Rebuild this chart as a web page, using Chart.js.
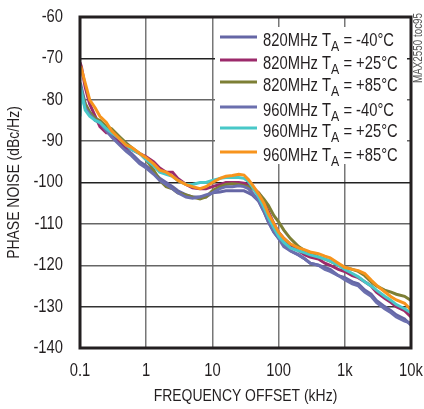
<!DOCTYPE html>
<html lang="en">
<head>
    <meta charset="UTF-8">
    <title>Phase Noise vs Frequency Offset</title>
    <script src="https://cdn.jsdelivr.net/npm/chart.js"></script>
    <style>
        html, body { margin: 0; padding: 0; background: #fff; }
        canvas { display: block; }
    </style>
</head>
<body>
    <canvas id="noiseChart" width="424" height="409"></canvas>

    <script>
        // frequency offset (kHz) shared by all traces
        const freqs = [0.1, 0.105, 0.12, 0.14, 0.17, 0.2, 0.25, 0.3, 0.4, 0.5, 0.6, 0.8,
            1, 1.3, 1.6, 2, 2.5, 3, 4, 5, 6.5, 8,
            10, 13, 16, 20, 25, 30, 35, 40, 50, 60, 70, 85,
            100, 120, 150, 200, 250, 300, 400, 500, 600, 800,
            1000, 1300, 1600, 2000, 2500, 3000, 4000, 5000, 6000, 8000, 10000];

        // phase noise (dBc/Hz)
        const n820m40 = [-78, -77, -81, -83, -84.5, -86, -87, -88.5, -90.5, -92, -93, -95,
            -96, -97.5, -99, -100, -101, -102, -103, -103.5, -103.5, -103.5,
            -102.5, -102.3, -102, -102, -102, -102, -102.5, -103, -104.5, -107, -109.5, -112,
            -113.5, -115, -116.5, -117.5, -118.5, -119.5, -120, -120.5, -121, -122.5,
            -123, -124, -124.5, -126, -127, -128.5, -130, -131, -132, -133, -134.5];
        const n820p25 = [-71, -72, -77, -81, -84, -86.5, -88, -88, -90, -91.5, -92, -93,
            -93.8, -95, -96.5, -97.5, -97.5, -99, -100.5, -101.3, -101.5, -101.5,
            -101, -100.5, -100, -100, -100, -100.2, -100.5, -101, -102.5, -104.5, -107, -110,
            -112, -113.5, -115, -116.5, -117.5, -118, -118.5, -119.5, -120, -121,
            -121.5, -122.5, -123, -124, -125, -126.5, -128, -129, -130, -131, -132.5];
        const n820p85 = [-79, -78, -81, -83, -84.5, -85, -86.5, -87, -89, -90.5, -91.5, -93,
            -94.5, -97, -99.5, -101, -101.5, -102.5, -103, -103.5, -104, -103.5,
            -102, -101, -100.5, -100.3, -100.5, -100.8, -101, -101.5, -102.5, -104, -105.5, -108,
            -109.5, -111.5, -113.5, -115.5, -116.5, -117, -118, -118.5, -119, -120,
            -120.5, -121, -121.5, -122.5, -124, -125, -126, -126.5, -127, -127.5, -128.5];
        const n960m40 = [-76, -78, -82, -83.5, -85, -85.5, -87.5, -89, -91, -92.5, -93.5, -95.5,
            -96.5, -98, -99.5, -100.5, -101.5, -102.5, -103.5, -103.8, -103.5, -103,
            -102.5, -101.5, -101, -101, -100.8, -101, -101.5, -102.5, -104.5, -107, -109.5, -112,
            -113.5, -115.5, -116.5, -117.5, -118.5, -119.5, -120, -121, -121.5, -122.5,
            -123.5, -124.5, -125, -126.5, -127.5, -129, -130.5, -131.5, -132.5, -133.5, -134];
        const n960p25 = [-84, -78, -82.5, -84, -85, -85.5, -87, -88, -89.5, -91, -92, -93,
            -94.5, -96, -97.5, -98, -98.5, -99.5, -100.5, -100.5, -100, -100,
            -99.5, -99, -98.8, -98.8, -98.8, -99, -99.8, -101, -103.5, -106, -108.5, -111,
            -113, -114.5, -115.8, -116.5, -117, -117.5, -118, -118.5, -119, -120,
            -121, -122, -122.8, -124, -125, -126, -127.5, -128.5, -129.5, -130.5, -131.5];
        const n960p85 = [-73, -72.5, -76, -80, -82, -84, -85.5, -87.5, -89.5, -91, -91.5, -93,
            -94, -95.5, -97, -97.5, -98.5, -99.5, -100.5, -101, -101.5, -101,
            -100, -99, -98.5, -98.3, -98, -98.2, -99.3, -100.5, -102.8, -105, -107.5, -110,
            -112, -113.5, -114.8, -115.8, -116.3, -116.8, -117.2, -117.8, -118.2, -119.5,
            -120.5, -121, -121.3, -122, -123.6, -124.8, -126.4, -127.6, -128.4, -129.2, -130.8];

        const xTickValues = [0.1, 1, 10, 100, 1000, 10000];
        const xTickLabels = ['0.1', '1', '10', '100', '1k', '10k'];

        const seriesFreq = ['820MHz', '820MHz', '820MHz', '960MHz', '960MHz', '960MHz'];
        const seriesTemp = ['-40°C', '+25°C', '+85°C', '-40°C', '+25°C', '+85°C'];
        const seriesValues = [n820m40, n820p25, n820p85, n960m40, n960p25, n960p85];
        const seriesColors = ['#6566a5', '#9c2a6b', '#7d7f35', '#6b6fae', '#48c8c8', '#f7941d'];

        const FONT = "'Liberation Sans', Arial, sans-serif";
        const INK = '#231f20';
        const SQUEEZE = 0.82; // no narrow face installed, so condense text by hand

        const canvas = document.getElementById('noiseChart');
        const ctx = canvas.getContext('2d');

        // every fillText on this canvas is squeezed horizontally round its anchor
        const rawFillText = ctx.fillText.bind(ctx);
        ctx.fillText = function (text, x, y, maxWidth) {
            this.save();
            this.translate(x, y);
            this.scale(SQUEEZE, 1);
            rawFillText(text, 0, 0);
            this.restore();
        };

        // legend drawn inside the plot, on a white box, like the original
        const legendBox = {
            id: 'legendBox',
            beforeDatasetsDraw(chart) {
                const c = chart.ctx;
                const rowY = [37, 60, 82, 107, 128, 152];
                c.save();
                c.fillStyle = '#fff';
                c.fillRect(215, 27, 192, 137);
                c.textBaseline = 'alphabetic';
                c.textAlign = 'left';
                c.fillStyle = INK;
                seriesFreq.forEach((f, i) => {
                    const y = rowY[i];
                    c.strokeStyle = seriesColors[i];
                    c.lineWidth = 3;
                    c.beginPath();
                    c.moveTo(220, y);
                    c.lineTo(257, y);
                    c.stroke();

                    let x = 263;
                    const base = y + 9;
                    c.font = '18px ' + FONT;
                    const a = f + ' T';
                    c.fillText(a, x, base);
                    x += c.measureText(a).width * SQUEEZE;
                    c.font = '15px ' + FONT;
                    c.fillText('A', x, base + 5);
                    x += c.measureText('A').width * SQUEEZE;
                    c.font = '18px ' + FONT;
                    c.fillText(' = ' + seriesTemp[i], x, base);
                });
                c.restore();
            },
            afterDraw(chart) {
                const c = chart.ctx;
                const a = chart.chartArea;
                c.save();
                c.strokeStyle = INK;
                c.lineWidth = 3;
                c.strokeRect(a.left, a.top, a.right - a.left, a.bottom - a.top);
                // figure id on the right edge
                c.translate(419, 48);
                c.rotate(-Math.PI / 2);
                c.font = '12px ' + FONT;
                c.fillStyle = '#555';
                c.textAlign = 'center';
                c.textBaseline = 'middle';
                c.fillText('MAX2550 toc95', 0, 0);
                c.restore();
            }
        };

        new Chart(ctx, {
            type: 'line',
            data: {
                datasets: seriesValues.map((vals, i) => ({
                    label: seriesFreq[i] + ' TA = ' + seriesTemp[i],
                    data: freqs.map((f, j) => ({ x: f, y: vals[j] })),
                    borderColor: seriesColors[i],
                    borderWidth: 3,
                    pointRadius: 0,
                    tension: 0,
                    order: seriesValues.length - i
                }))
            },
            options: {
                responsive: false,
                animation: false,
                devicePixelRatio: 1,
                layout: { padding: { top: 17, right: 13, left: 0, bottom: 0 } },
                plugins: {
                    legend: { display: false },
                    tooltip: { enabled: false }
                },
                scales: {
                    x: {
                        type: 'logarithmic',
                        min: 0.1,
                        max: 10000,
                        afterBuildTicks: scale => {
                            scale.ticks = xTickValues.map(v => ({ value: v }));
                        },
                        afterFit: scale => {
                            scale.height = 61;
                            scale.paddingLeft = 0;
                            scale.paddingRight = 0;
                        },
                        border: { display: false },
                        grid: { color: '#777', lineWidth: 1.5, drawTicks: false },
                        ticks: {
                            padding: 12,
                            color: INK,
                            font: { family: FONT, size: 18 },
                            maxRotation: 0,
                            autoSkip: false,
                            callback: value => {
                                const k = xTickValues.indexOf(value);
                                return k >= 0 ? xTickLabels[k] : '';
                            }
                        },
                        title: {
                            display: true,
                            text: 'FREQUENCY OFFSET (kHz)',
                            color: INK,
                            font: { family: FONT, size: 17 },
                            padding: { top: 0, bottom: 2 }
                        }
                    },
                    y: {
                        min: -140,
                        max: -60,
                        afterFit: scale => {
                            scale.width = 80;
                            scale.paddingTop = 0;
                            scale.paddingBottom = 0;
                        },
                        border: { display: false },
                        grid: {
                            drawTicks: false,
                            lineWidth: 1.5,
                            color: c => ([-70, -100].includes(c.tick.value) ? '#222' : (c.tick.value === -130 ? '#333' : '#666'))
                        },
                        ticks: {
                            stepSize: 10,
                            padding: 17,
                            color: INK,
                            font: { family: FONT, size: 18 }
                        },
                        title: {
                            display: true,
                            text: 'PHASE NOISE (dBc/Hz)',
                            color: INK,
                            font: { family: FONT, size: 17 },
                            padding: { top: 4, bottom: 0 }
                        }
                    }
                }
            },
            plugins: [legendBox]
        });
    </script>
</body>
</html>
